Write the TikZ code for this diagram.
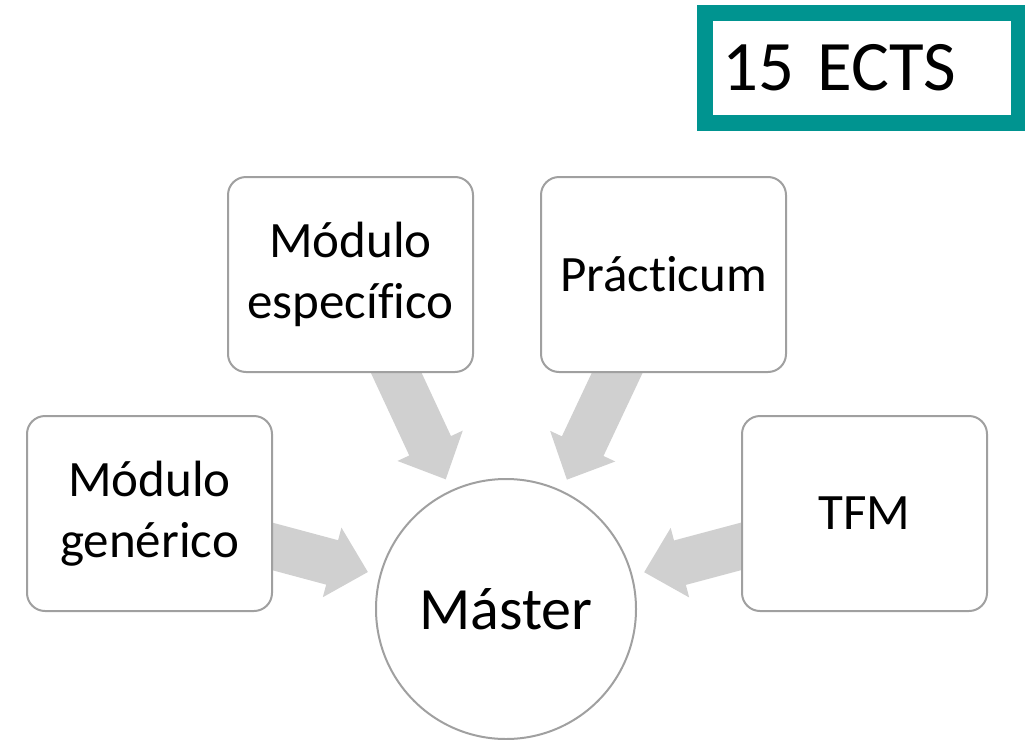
\documentclass[tikz,border=0pt]{standalone}
\usepackage{fontspec}
\setmainfont[Ligatures=NoCommon,RawFeature={-liga;-clig}]{Carlito}
\usetikzlibrary{calc}
\pgfdeclarelayer{background}
\pgfsetlayers{background,main}
\definecolor{tealframe}{RGB}{0,148,144}
\definecolor{arrowgray}{RGB}{208,208,208}
\definecolor{boxgray}{RGB}{160,160,160}
\newcommand\flowarrow[2]{%
  \coordinate (#1-tip) at ($(#2.center)!143pt!(#1.center)$);
  \coordinate (#1-base) at ($(#1-tip)!37pt!(#1.center)$);
  \fill[flow] ($(#1.center)!23pt!90:(#1-tip)$)
    -- ($(#1-base)!23pt!-90:(#1.center)$)
    -- ($(#1-base)!36pt!-90:(#1.center)$)
    -- (#1-tip)
    -- ($(#1-base)!36pt!90:(#1.center)$)
    -- ($(#1-base)!23pt!90:(#1.center)$)
    -- ($(#1.center)!23pt!-90:(#1-tip)$) -- cycle;
}
\begin{document}
\begin{tikzpicture}[x=1pt,y=-1pt,
  box/.style={draw=boxgray, line width=2pt, fill=white, rounded corners=18pt,
    minimum width=245pt, minimum height=195pt, align=center, inner sep=0pt,
    font=\fontsize{51}{61}\selectfont},
  hub/.style={circle, draw=boxgray, line width=2pt, fill=white,
    minimum size=260pt, inner sep=0pt, font=\fontsize{60}{72}\selectfont},
  flow/.style={fill=arrowgray, draw=none},
  credit/.style={draw=tealframe, line width=16pt, minimum height=110pt,
    text width=280pt, inner xsep=17pt, align=left,
    font=\fontsize{71}{85}\selectfont}]
\useasboundingbox (0,0) rectangle (1025,739);

\node[credit] (ects) at (862,68) {15 ECTS};

\node[box] (gen) at (149.5,513.5) {Módulo\\genérico};
\node[box] (esp) at (350.5,274.5) {Módulo\\específico};
\node[box] (pra) at (663.5,274.5) {Prác\kern0pt ticum};
\node[box] (tfm) at (864.5,513.5) {TFM};
\node[hub] (mas) at (506,609) {Máster};

\begin{pgfonlayer}{background}
  \flowarrow{gen}{mas}
  \flowarrow{esp}{mas}
  \flowarrow{pra}{mas}
  \flowarrow{tfm}{mas}
\end{pgfonlayer}
\end{tikzpicture}
\end{document}
